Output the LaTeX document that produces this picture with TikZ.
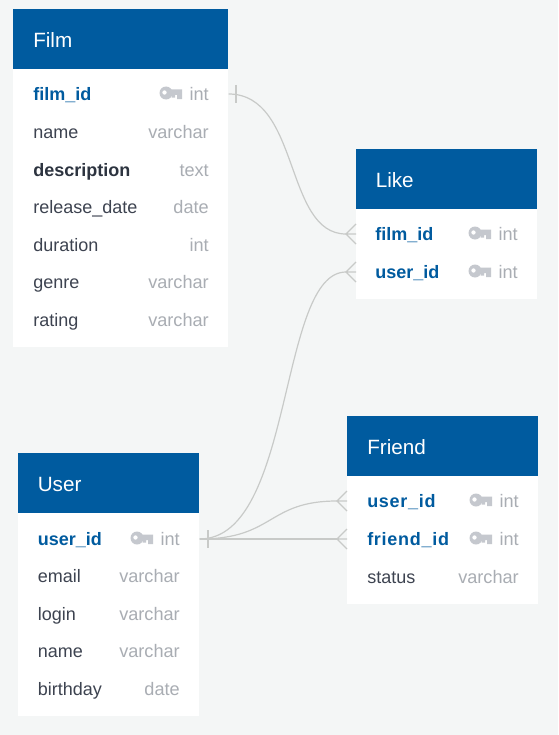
\documentclass[tikz,border=0pt]{standalone}
\usepackage{fontspec}
\setmainfont{Liberation Sans}
\newfontfamily\spacedfont[LetterSpace=4]{Liberation Sans}
\definecolor{pagegray}{HTML}{F4F6F6}
\definecolor{headblue}{HTML}{005B9F}
\definecolor{namedark}{HTML}{3D4350}
\definecolor{boldinkdark}{HTML}{2D3440}
\definecolor{typegray}{HTML}{A9ADB3}
\definecolor{keygray}{HTML}{C5C8CE}
\definecolor{linkgray}{HTML}{C8CAC8}
\tikzset{
  head/.style={fill=headblue,inner sep=0pt,anchor=north west,minimum height=45pt},
  body/.style={fill=white,inner sep=0pt,anchor=north west},
  title/.style={text=white,font=\fontsize{15.5}{18}\selectfont,inner sep=0pt,anchor=west,text height=13.1pt,text depth=0pt},
  field/.style={text=namedark,font=\fontsize{13.5}{16}\selectfont,inner sep=0pt,anchor=west,text height=10pt,text depth=0pt},
  keyfield/.style={field,text=headblue,font=\fontsize{13.5}{16}\selectfont\bfseries},
  spacedfield/.style={field,text=headblue,font=\spacedfont\fontsize{13.5}{16}\selectfont\bfseries},
  boldfield/.style={field,text=boldinkdark,font=\fontsize{13.5}{16}\selectfont\bfseries},
  fieldtype/.style={field,text=typegray,anchor=east,font=\fontsize{13.6}{16}\selectfont},
  link/.style={draw=linkgray,line width=0.9pt},
  keyicon/.pic={
    \fill[keygray,even odd rule] (0,-1) circle (6.5) (-1.5,-1.5) circle (2.3);
    \fill[keygray] (4,-4.5) rectangle (16,1) (11,1) rectangle (16,5) (5.5,1) rectangle (9,3.5);
  },
  crowfoot/.pic={
    \draw[link] (10,-10) -- (0,0) -- (10,10) (0,0) -- (10,0);
  },
  tickmark/.pic={
    \draw[link] (0,-9) -- (0,9);
  }
}
\begin{document}
\begin{tikzpicture}[x=0.75pt,y=-0.75pt]
    \useasboundingbox[fill=pagegray] (0,0) rectangle (558,735);

    % Film
    \node[body,minimum width=161.25pt,minimum height=253.5pt] (film body) at (13,9) {};
    \node[head,minimum width=161.25pt] (film head) at (13,9) {};
    \node[title] (film title) at (33,39) {Film};
    \node[keyfield] (film id) at (33,94) {film\_id};
    \node[fieldtype] (film id type) at (209,94) {int};
    \pic at (166,94) {keyicon};
    \node[field] (film name) at (33,132) {name};
    \node[fieldtype] (film name type) at (209,132) {varchar};
    \node[boldfield] (film description) at (33,170) {description};
    \node[fieldtype] (film description type) at (209,170) {text};
    \node[field] (film release) at (33,207) {release\_date};
    \node[fieldtype] (film release type) at (209,207) {date};
    \node[field] (film duration) at (33,245) {duration};
    \node[fieldtype] (film duration type) at (209,245) {int};
    \node[field] (film genre) at (33,282) {genre};
    \node[fieldtype] (film genre type) at (209,282) {varchar};
    \node[field] (film rating) at (33,320) {rating};
    \node[fieldtype] (film rating type) at (209,320) {varchar};

    % Like
    \node[body,minimum width=135.75pt,minimum height=112.5pt] (like body) at (356,149) {};
    \node[head,minimum width=135.75pt] (like head) at (356,149) {};
    \node[title] (like title) at (375.5,179) {Like};
    \node[keyfield] (like film) at (375,234) {film\_id};
    \node[fieldtype] (like film type) at (518,234) {int};
    \pic at (475,234) {keyicon};
    \node[keyfield] (like user) at (375,272) {user\_id};
    \node[fieldtype] (like user type) at (518,272) {int};
    \pic at (475,272) {keyicon};

    % Friend
    \node[body,minimum width=143.25pt,minimum height=141pt] (friend body) at (347,416) {};
    \node[head,minimum width=143.25pt] (friend head) at (347,416) {};
    \node[title] (friend title) at (367,446) {Friend};
    \node[spacedfield] (friend user) at (367,501) {user\_id};
    \node[fieldtype] (friend user type) at (519,501) {int};
    \pic at (476,501) {keyicon};
    \node[spacedfield] (friend friend) at (367,539) {friend\_id};
    \node[fieldtype] (friend friend type) at (519,539) {int};
    \pic at (476,539) {keyicon};
    \node[field] (friend status) at (367,577) {status};
    \node[fieldtype] (friend status type) at (519,577) {varchar};

    % User
    \node[body,minimum width=135.75pt,minimum height=197.25pt] (user body) at (18,453) {};
    \node[head,minimum width=135.75pt] (user head) at (18,453) {};
    \node[title] (user title) at (37.5,483) {User};
    \node[keyfield] (user id) at (37.5,539) {user\_id};
    \node[fieldtype] (user id type) at (180,539) {int};
    \pic at (137,539) {keyicon};
    \node[field] (user email) at (37.5,576) {email};
    \node[fieldtype] (user email type) at (180,576) {varchar};
    \node[field] (user login) at (37.5,614) {login};
    \node[fieldtype] (user login type) at (180,614) {varchar};
    \node[field] (user name) at (37.5,651) {name};
    \node[fieldtype] (user name type) at (180,651) {varchar};
    \node[field] (user birthday) at (37.5,689) {birthday};
    \node[fieldtype] (user birthday type) at (180,689) {date};

    % Ends of the connectors
    \coordinate (like film end) at (346,234);
    \coordinate (like user end) at (346,272);
    \coordinate (friend user end) at (337,501);
    \coordinate (friend friend end) at (337,539);

    % Connectors
    \draw[link] (film body.east |- film id) .. controls +(72,0) and +(-62,0) .. (like film end);
    \draw[link] (user body.east |- user id) .. controls +(95,0) and +(-68,0) .. (like user end);
    \draw[link] (user body.east |- user id) .. controls +(75,0) and +(-70,0) .. (friend user end);
    \draw[link] (user body.east |- user id) -- (friend friend end);

    % Tick marks and crow's feet
    \pic at (236,94) {tickmark};
    \pic at (208,539) {tickmark};
    \pic at (like film end) {crowfoot};
    \pic at (like user end) {crowfoot};
    \pic at (friend user end) {crowfoot};
    \pic at (friend friend end) {crowfoot};
\end{tikzpicture}
\end{document}
